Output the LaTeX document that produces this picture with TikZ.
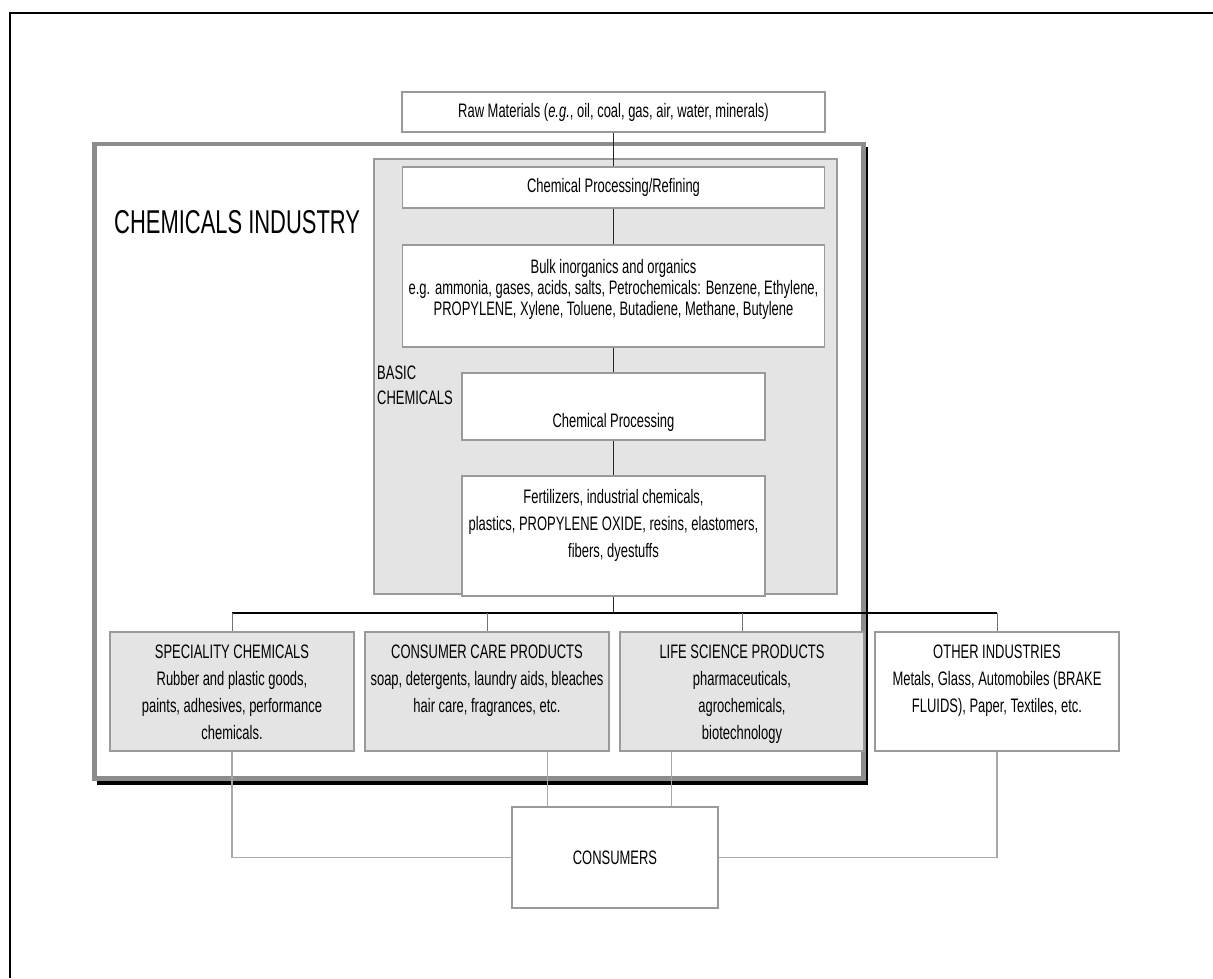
\documentclass[tikz,border=0pt]{standalone}
\usepackage{fontspec}
\setmainfont{Liberation Sans}[FakeStretch=0.665]
\definecolor{panelgray}{HTML}{E4E4E4}
\definecolor{edgegray}{HTML}{9A9A9A}
\definecolor{framegray}{HTML}{8C8C8C}
\definecolor{linkgray}{HTML}{A8A8A8}
\newcommand{\cellbox}[4]{\parbox[c][#2][t]{#1}{\centering\vspace*{#3}\strut #4}}
\tikzset{
  box/.style={draw=edgegray, line width=1.4pt, fill=white, inner sep=0pt},
  shaded/.style={box, fill=panelgray},
  chain/.style={black!85, line width=0.9pt},
  busline/.style={black, line width=2pt},
  drop/.style={black!55, line width=0.9pt},
  link/.style={linkgray, line width=1.3pt}
}
\begin{document}
\begin{tikzpicture}[x=1pt, y=-1pt, font=\fontsize{19.5}{27}\selectfont]
    \useasboundingbox (0,0) rectangle (1213,978);
    \draw[line width=2.2pt] (10,978) -- (10,13) -- (1213,13);
    \fill[black] (97,147) rectangle (868,785);
    \draw[framegray, line width=4.6pt, fill=white] (94.3,144.1) rectangle (863.4,778.4);
    \draw[edgegray, line width=1.4pt, fill=panelgray] (374,159) rectangle (837,594);
    \node[anchor=base west, inner sep=0pt, font=\fontsize{33}{38}\selectfont] (title) at (114,233) {CHEMICALS INDUSTRY};
    \node[anchor=north west, inner sep=0pt, align=left, font=\fontsize{19.5}{25}\selectfont] (basic) at (377,366) {BASIC\\CHEMICALS};
    \node[box, minimum width=423pt, minimum height=40pt] (raw) at (613.5,112) {Raw Materials (\textit{e.g.}, oil, coal, gas, air, water, minerals)};
    \node[box, minimum width=422pt, minimum height=41pt] (refine) at (613.5,187.5) {Chemical Processing/Refining};
    \node[box, font=\fontsize{19.5}{21}\selectfont] (bulk) at (613.5,296) {\cellbox{422pt}{102pt}{14pt}{Bulk inorganics and organics\\
      \makebox[\linewidth]{e.g. ammonia, gases, acids, salts, Petrochemicals: Benzene, Ethylene,}\\
      PROPYLENE, Xylene, Toluene, Butadiene, Methane, Butylene}};
    \node[box] (proc) at (613.5,406.5) {\cellbox{303pt}{67pt}{36pt}{Chemical Processing}};
    \node[box] (fert) at (613.5,536) {\cellbox{303pt}{120pt}{9pt}{Fertilizers, industrial chemicals,\\
      plastics, PROPYLENE OXIDE, resins, elastomers,\\ fibers, dyestuffs}};
    \node[shaded] (spec) at (232,691.5) {\cellbox{244pt}{119pt}{8pt}{SPECIALITY CHEMICALS\\
      Rubber and plastic goods,\\ paints, adhesives, performance\\ chemicals.}};
    \node[shaded] (care) at (487,691.5) {\cellbox{244pt}{119pt}{8pt}{CONSUMER CARE PRODUCTS\\
      soap, detergents, laundry aids, bleaches\\ hair care, fragrances, etc.}};
    \node[shaded] (life) at (742,691.5) {\cellbox{244pt}{119pt}{8pt}{LIFE SCIENCE PRODUCTS\\
      pharmaceuticals,\\ agrochemicals,\\ biotechnology}};
    \node[box] (other) at (997,691.5) {\cellbox{244pt}{119pt}{8pt}{OTHER INDUSTRIES\\
      Metals, Glass, Automobiles (BRAKE\\ FLUIDS), Paper, Textiles, etc.}};
    \node[box, minimum width=206pt, minimum height=101pt] (cons) at (615,857.5) {CONSUMERS};
    \coordinate (bus) at (613.5,613.3);
    \draw[chain] (raw) -- (refine) -- (bulk) -- (proc) -- (fert) -- (bus);
    \draw[busline] (spec.north |- bus) -- (other.north |- bus);
    \foreach \n in {spec,care,life,other}
        \draw[drop] (\n.north |- bus) -- (\n.north);
    \draw[link] (spec.south) |- (cons.west);
    \draw[link] (other.south) |- (cons.east);
    \draw[link] ([xshift=36pt]cons.north west) -- ([xshift=36pt]cons.north west |- care.south);
    \draw[link] ([xshift=160pt]cons.north west) -- ([xshift=160pt]cons.north west |- life.south);
\end{tikzpicture}
\end{document}
